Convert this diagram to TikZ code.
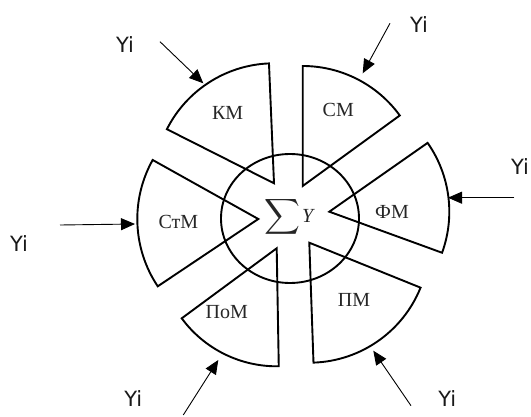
\documentclass[tikz,border=0pt]{standalone}
\usepackage{amsmath}
\usepackage{fontspec}
\setmainfont{Liberation Serif}
\newfontfamily\yifont{DejaVu Sans}
\usetikzlibrary{arrows.meta}
\tikzset{
  sector/.style={line width=1.9pt, line join=miter},
  ring/.style={line width=1.9pt},
  arr/.style={line width=0.9pt, -{Triangle[length=14pt,width=12pt]}},
  mlab/.style={font=\fontsize{20}{22}\selectfont, text=black!85, inner sep=0pt},
  ylab/.style={font=\yifont\fontsize{21}{23}\selectfont, text=black!90, inner sep=0pt},
}
\begin{document}
\begin{tikzpicture}[x=1pt,y=1pt]
\useasboundingbox (0,0) rectangle (531,416);
% central circle
\draw[ring] (290,197.5) ellipse [x radius=69, y radius=64.5];
% sectors
\draw[sector] (274,232.7) -- ++(92.4:120) arc[start angle=92.4, end angle=153.2, radius=120] -- cycle;
\draw[sector] (302.7,230) -- ++(36:120) arc[start angle=36, end angle=90, radius=120] -- cycle;
\draw[sector] (329.3,204.3) -- ++(-20:120) arc[start angle=-20, end angle=35, radius=120] -- cycle;
\draw[sector] (309.3,173.3) -- ++(-88:120) arc[start angle=-88, end angle=-22, radius=120] -- cycle;
\draw[sector] (276.7,167.7) -- ++(-143.6:118) arc[start angle=-143.6, end angle=-89, radius=118] -- cycle;
\draw[sector] (258.3,197) -- ++(150.8:121) arc[start angle=150.8, end angle=213.8, radius=121] -- cycle;
% sector labels
\node[mlab] (km) at (227.7,302.7) {КМ};
\node[mlab] (cm) at (338.3,306) {СМ};
\node[mlab] (fm) at (392,204.3) {ФМ};
\node[mlab] (pm) at (354,116) {ПМ};
\node[mlab] (pom) at (226.7,104.3) {ПоМ};
\node[mlab] (stm) at (178.3,194.3) {СтМ};
% sum
\node[inner sep=0pt, text=black!85] (sum) at (282,199) {\fontsize{27}{30}\selectfont$\displaystyle\sum$};
\node[mlab] (y) at (308.5,200) {\textit{Y}};
% Yi labels
\node[ylab] (y1) at (125,371) {Yi};
\node[ylab] (y2) at (419,391) {Yi};
\node[ylab] (y3) at (520,249.3) {Yi};
\node[ylab] (y4) at (19,172.7) {Yi};
\node[ylab] (y5) at (133.3,17.7) {Yi};
\node[ylab] (y6) at (447.3,17.7) {Yi};
% arrow coordinates
\coordinate (a1s) at (160,374.3); \coordinate (a1e) at (203.3,332.7);
\coordinate (a2s) at (390,392.7); \coordinate (a2e) at (362.7,342.7);
\coordinate (a3s) at (514.3,218.3); \coordinate (a3e) at (448,218.3);
\coordinate (a4s) at (60,191); \coordinate (a4e) at (135,192);
\coordinate (a5s) at (183.3,1); \coordinate (a5e) at (218.3,56);
\coordinate (a6s) at (411,10.3); \coordinate (a6e) at (373.3,65.3);
\draw[arr] (a1s) -- (a1e);
\draw[arr] (a2s) -- (a2e);
\draw[arr] (a3s) -- (a3e);
\draw[arr] (a4s) -- (a4e);
\draw[arr] (a5s) -- (a5e);
\draw[arr] (a6s) -- (a6e);
\end{tikzpicture}
\end{document}
